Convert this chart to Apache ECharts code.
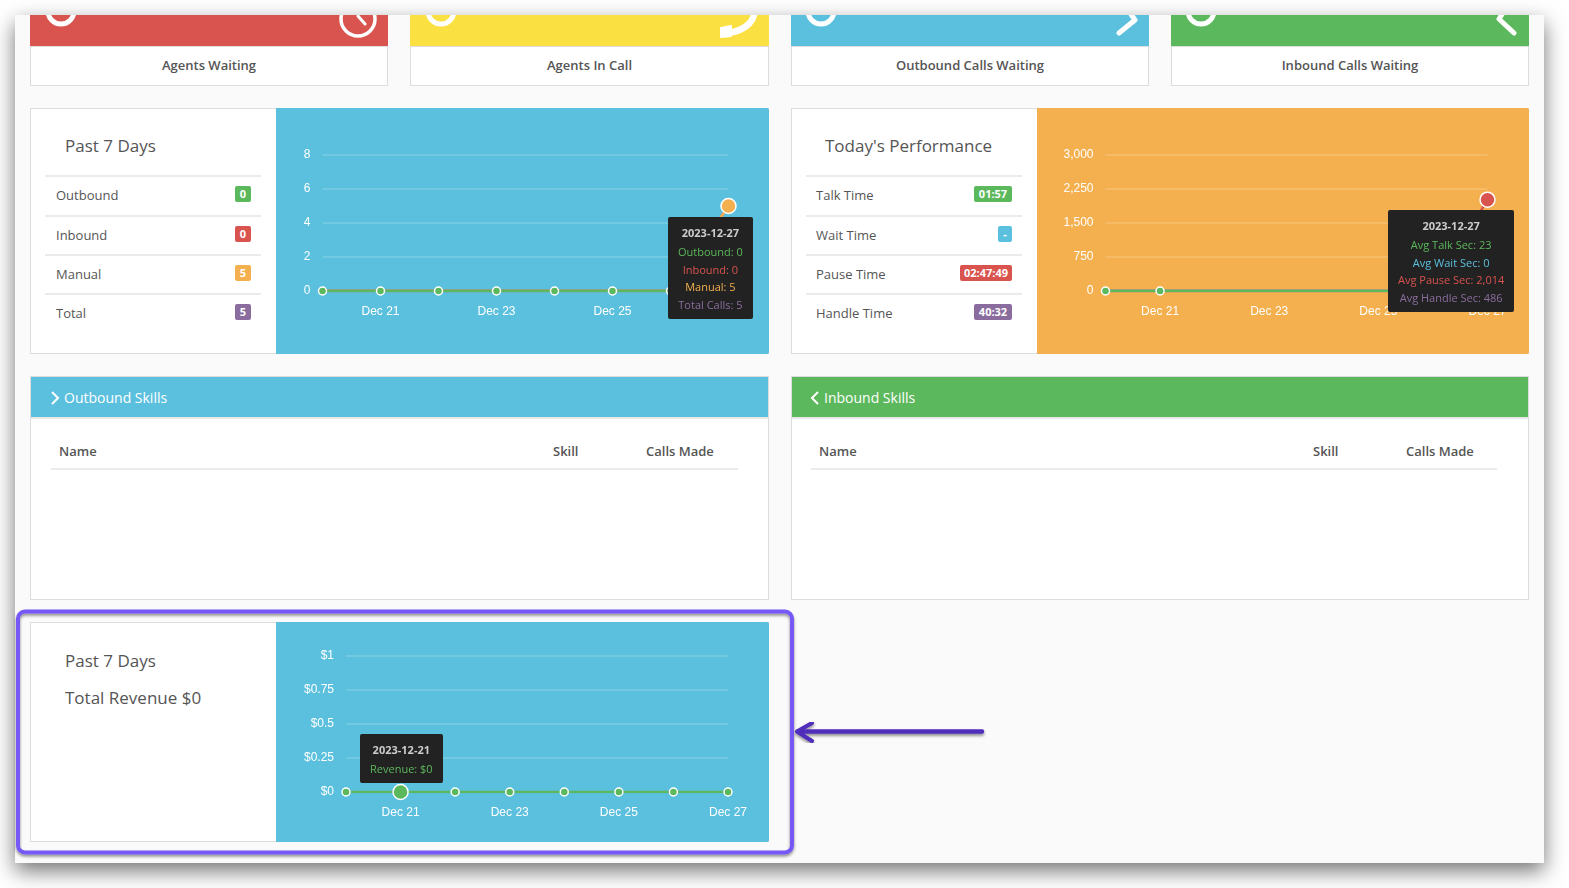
<!DOCTYPE html>
<html><head><meta charset="utf-8">
<script src="https://cdn.jsdelivr.net/npm/echarts@6/dist/echarts.min.js"></script>
<style>
html,body{margin:0;padding:0;width:1569px;height:888px;background:#fff;overflow:hidden;font-family:"Open Sans",sans-serif;color:#555}
#frame{position:absolute;left:15px;top:15px;width:1529px;height:848px;background:#fafafa;box-shadow:0 8px 20px rgba(0,0,0,.55)}
.a{position:absolute;white-space:nowrap;line-height:1}
.box{position:absolute;background:#fff;border:1px solid #ddd;box-sizing:border-box}
.fill{position:absolute}
.title{font-size:17px;color:#555}
.row{font-size:13px;color:#555}
.rule{position:absolute;height:2px;background:#ebebeb}
.badge{position:absolute;height:16px;line-height:16px;border-radius:2px;color:#fff;font-size:11px;font-weight:700;text-align:center}
.cap{font-size:13px;font-weight:600;color:#555;text-align:center}
.th{font-size:13px;font-weight:600;color:#555}
.chart{position:absolute}
svg{position:absolute;left:0;top:0;pointer-events:none}
</style></head><body>
<div id="frame"></div>

<!-- stat cards -->
<div class="fill" style="left:30px;top:15px;width:358px;height:31px;background:#d9534f"></div>
<div class="fill" style="left:410px;top:15px;width:359px;height:31px;background:#fbe041"></div>
<div class="fill" style="left:791px;top:15px;width:358px;height:31px;background:#5bc0de"></div>
<div class="fill" style="left:1171px;top:15px;width:358px;height:31px;background:#5cb85c"></div>
<div class="box" style="left:30px;top:46px;width:358px;height:40px"></div>
<div class="box" style="left:410px;top:46px;width:359px;height:40px"></div>
<div class="box" style="left:791px;top:46px;width:358px;height:40px"></div>
<div class="box" style="left:1171px;top:46px;width:358px;height:40px"></div>
<div class="a cap" style="left:30px;top:59px;width:358px">Agents Waiting</div>
<div class="a cap" style="left:410px;top:59px;width:359px">Agents In Call</div>
<div class="a cap" style="left:791px;top:59px;width:358px">Outbound Calls Waiting</div>
<div class="a cap" style="left:1171px;top:59px;width:358px">Inbound Calls Waiting</div>

<!-- past 7 days panel -->
<div class="box" style="left:30px;top:108px;width:739px;height:246px"></div>
<div class="fill" style="left:276px;top:108px;width:493px;height:246px;background:#5bc0de;border-radius:0 2px 2px 0"></div>
<div class="a title" style="left:65px;top:137px">Past 7 Days</div>
<div class="rule" style="left:45px;top:175px;width:216px"></div>
<div class="rule" style="left:45px;top:215px;width:216px"></div>
<div class="rule" style="left:45px;top:254px;width:216px"></div>
<div class="rule" style="left:45px;top:293px;width:216px"></div>
<div class="a row" style="left:56px;top:189px">Outbound</div>
<div class="a row" style="left:56px;top:229px">Inbound</div>
<div class="a row" style="left:56px;top:268px">Manual</div>
<div class="a row" style="left:56px;top:307px">Total</div>
<div class="badge" style="left:235px;top:186px;width:16px;background:#5cb85c">0</div>
<div class="badge" style="left:235px;top:226px;width:16px;background:#d9534f">0</div>
<div class="badge" style="left:235px;top:265px;width:16px;background:#f4b04f">5</div>
<div class="badge" style="left:235px;top:304px;width:16px;background:#8a6d9e">5</div>
<div class="chart" id="c1" style="left:276px;top:108px;width:493px;height:246px"></div>

<!-- today's performance panel -->
<div class="box" style="left:791px;top:108px;width:738px;height:246px"></div>
<div class="fill" style="left:1037px;top:108px;width:492px;height:246px;background:#f4b04f;border-radius:0 2px 2px 0"></div>
<div class="a title" style="left:825px;top:137px">Today's Performance</div>
<div class="rule" style="left:806px;top:175px;width:216px"></div>
<div class="rule" style="left:806px;top:215px;width:216px"></div>
<div class="rule" style="left:806px;top:254px;width:216px"></div>
<div class="rule" style="left:806px;top:293px;width:216px"></div>
<div class="a row" style="left:816px;top:189px">Talk Time</div>
<div class="a row" style="left:816px;top:229px">Wait Time</div>
<div class="a row" style="left:816px;top:268px">Pause Time</div>
<div class="a row" style="left:816px;top:307px">Handle Time</div>
<div class="badge" style="left:974px;top:186px;width:38px;background:#5cb85c">01:57</div>
<div class="badge" style="left:998px;top:226px;width:14px;background:#5bc0de">-</div>
<div class="badge" style="left:960px;top:265px;width:52px;background:#d9534f">02:47:49</div>
<div class="badge" style="left:974px;top:304px;width:38px;background:#8a6d9e">40:32</div>
<div class="chart" id="c2" style="left:1037px;top:108px;width:492px;height:246px"></div>

<!-- skills panels -->
<div class="box" style="left:30px;top:376px;width:739px;height:224px"></div>
<div class="fill" style="left:31px;top:377px;width:737px;height:40px;background:#5bc0de;border-bottom:2px solid #e8e8e8"></div>
<div class="a" style="left:64px;top:391px;font-size:14px;color:#fff">Outbound Skills</div>
<div class="a th" style="left:59px;top:445px">Name</div>
<div class="a th" style="left:553px;top:445px">Skill</div>
<div class="a th" style="left:646px;top:445px">Calls Made</div>
<div class="rule" style="left:51px;top:468px;width:687px"></div>

<div class="box" style="left:791px;top:376px;width:738px;height:224px"></div>
<div class="fill" style="left:792px;top:377px;width:736px;height:40px;background:#5cb85c;border-bottom:2px solid #e8e8e8"></div>
<div class="a" style="left:824px;top:391px;font-size:14px;color:#fff">Inbound Skills</div>
<div class="a th" style="left:819px;top:445px">Name</div>
<div class="a th" style="left:1313px;top:445px">Skill</div>
<div class="a th" style="left:1406px;top:445px">Calls Made</div>
<div class="rule" style="left:811px;top:468px;width:686px"></div>

<!-- revenue panel -->
<div class="box" style="left:30px;top:622px;width:739px;height:220px"></div>
<div class="fill" style="left:276px;top:622px;width:493px;height:220px;background:#5bc0de;border-radius:0 2px 2px 0"></div>
<div class="a title" style="left:65px;top:652px">Past 7 Days</div>
<div class="a title" style="left:65px;top:689px">Total Revenue $0</div>
<div class="chart" id="c3" style="left:276px;top:622px;width:493px;height:220px"></div>

<svg width="1569" height="888" viewBox="0 0 1569 888" fill="none">
  <defs>
    <clipPath id="top"><rect x="15" y="15" width="1529" height="848"/></clipPath>
    <filter id="ds" x="-5%" y="-5%" width="110%" height="115%"><feDropShadow dx="0" dy="2" stdDeviation="1.5" flood-color="#000" flood-opacity=".45"/></filter>
  </defs>
  <g clip-path="url(#top)" stroke="#fff" stroke-linecap="round" stroke-linejoin="round">
    <circle cx="61" cy="11" r="13" stroke-width="5"/>
    <circle cx="441" cy="11" r="13" stroke-width="5"/>
    <circle cx="821" cy="11" r="13" stroke-width="5"/>
    <circle cx="1201" cy="11" r="13" stroke-width="5"/>
    <circle cx="358" cy="19" r="17" stroke-width="3.5"/>
    <path d="M358 16 L365 24" stroke-width="3"/>
    <path d="M754 15 Q750 29 729 33" stroke-width="6.5"/>
    <path d="M721 28 L731 26 L731 36 L721 37Z" fill="#fff" stroke-width="2"/>
    <path d="M1128 10 L1135 20 L1119 33" stroke-width="5"/>
    <path d="M1506 8 L1499 19 L1514 33" stroke-width="5"/>
  </g>
  <path d="M52 392 L58 398 L52 404" stroke="#fff" stroke-width="2"/>
  <path d="M818 392 L812 398 L818 404" stroke="#fff" stroke-width="2"/>
  <rect x="18" y="611.5" width="774" height="241" rx="7" stroke="#7558f6" stroke-width="4" filter="url(#ds)"/>
  <g filter="url(#ds)" stroke="#4f2dbb" stroke-linecap="round" stroke-linejoin="round">
    <path d="M982 731.5 L798 731.5" stroke-width="4.5"/>
    <path d="M812 723 L797 731.5 L812 741" stroke-width="4"/>
  </g>
</svg>

<script>
// Shared category axis
const days = ['Dec 20','Dec 21','Dec 22','Dec 23','Dec 24','Dec 25','Dec 26','Dec 27'];
const fullDates = ['2023-12-20','2023-12-21','2023-12-22','2023-12-23','2023-12-24','2023-12-25','2023-12-26','2023-12-27'];

// Past 7 Days: calls
const outbound = [0,0,0,0,0,0,0,0];
const inbound  = [0,0,0,0,0,0,0,0];
const manual   = [0,0,0,0,0,0,0,5];
const totalCalls = [0,0,0,0,0,0,0,5];

// Today's Performance: average seconds
const avgTalk   = [0,0,0,0,0,0,0,23];
const avgWait   = [0,0,0,0,0,0,0,0];
const avgPause  = [0,0,0,0,0,0,0,2014];
const avgHandle = [0,0,0,0,0,0,0,486];

// Past 7 Days: revenue
const revenue = [0,0,0,0,0,0,0,0];

const GREEN='#5cb85c', RED='#d9534f', ORANGE='#f4b04f', PURPLE='#8a6d9e', BLUE='#5bc0de';
const LAST = days.length-1;

function sizeAt(normal, bigIndex, big){
  return (v,p)=> p.dataIndex===bigIndex ? big : normal;
}
function line(name,data,color,size,z){
  return {name,type:'line',data,z,
    symbol:'circle',symbolSize:size,showSymbol:true,
    lineStyle:{color,width:2.5},
    itemStyle:{color,borderColor:'#fff',borderWidth:1.5},
    emphasis:{disabled:true},silent:false,animation:false};
}
function axes(gridColor,yOpts,fmt){
  return {
    xAxis:{type:'category',data:days,boundaryGap:false,
      axisLine:{show:false},axisTick:{show:false},splitLine:{show:false},
      axisLabel:{color:'#fff',fontFamily:'"Liberation Sans",Arial,sans-serif',fontSize:12,margin:15,
        interval:(i)=>i%2===1,hideOverlap:false,showMaxLabel:true}},
    yAxis:Object.assign({type:'value',
      axisLine:{show:false},axisTick:{show:false},
      splitLine:{lineStyle:{color:gridColor,width:2}},
      axisLabel:{color:'#fff',fontFamily:'"Liberation Sans",Arial,sans-serif',fontSize:12,margin:12,padding:[3,0,0,0],formatter:fmt}},yOpts)
  };
}
function tipBase(fmt,x,y){
  return {trigger:'item',show:true,alwaysShowContent:true,showContent:true,
    transitionDuration:0,backgroundColor:'#222',borderWidth:0,borderRadius:2,
    padding:[7,10,5,10],extraCssText:'box-shadow:none;text-align:center;line-height:17.75px;',
    textStyle:{fontFamily:'"Open Sans",sans-serif',fontSize:11,color:'#ccc'},
    formatter:fmt,position:()=>[x,y]};
}
const row=(c,t)=>`<div style="color:${c}">${t}</div>`;
const head=i=>`<div style="color:#ccc;font-weight:700;margin-bottom:1px">${fullDates[i]}</div>`;
const num=n=>n.toLocaleString('en-US');

const c1=echarts.init(document.getElementById('c1'),null,{renderer:'canvas'});
c1.setOption(Object.assign({
  animation:false,
  grid:{left:46.5,right:40.5,top:47,bottom:63,containLabel:false,outerBoundsMode:'none'},
  tooltip:tipBase(()=>{const i=LAST;return head(i)+row(GREEN,'Outbound: '+outbound[i])+row(RED,'Inbound: '+inbound[i])+row(ORANGE,'Manual: '+manual[i])+row(PURPLE,'Total Calls: '+totalCalls[i]);},392,109),
  series:[
    line('Total Calls',totalCalls,PURPLE,0,1),
    line('Inbound',inbound,RED,0,2),
    line('Manual',manual,ORANGE,sizeAt(0,LAST,15),3),
    line('Outbound',outbound,GREEN,8,4)
  ]},axes('rgba(255,255,255,.14)',{min:0,max:8,interval:2})));
c1.dispatchAction({type:'showTip',seriesIndex:2,dataIndex:LAST});

const c2=echarts.init(document.getElementById('c2'),null,{renderer:'canvas'});
c2.setOption(Object.assign({
  animation:false,
  grid:{left:68.5,right:41.5,top:47,bottom:63,containLabel:false,outerBoundsMode:'none'},
  tooltip:tipBase(()=>{const i=LAST;return head(i)+row(GREEN,'Avg Talk Sec: '+num(avgTalk[i]))+row(BLUE,'Avg Wait Sec: '+num(avgWait[i]))+row(RED,'Avg Pause Sec: '+num(avgPause[i]))+row(PURPLE,'Avg Handle Sec: '+num(avgHandle[i]));},350.5,102),
  series:[
    line('Avg Handle Sec',avgHandle,PURPLE,0,1),
    line('Avg Pause Sec',avgPause,RED,sizeAt(0,LAST,15),2),
    line('Avg Wait Sec',avgWait,BLUE,0,3),
    line('Avg Talk Sec',avgTalk,GREEN,(v,p)=>p.dataIndex<2?8:0,4)
  ]},axes('rgba(255,255,255,.14)',{min:0,max:3000,interval:750},v=>num(v))));
c2.dispatchAction({type:'showTip',seriesIndex:1,dataIndex:LAST});

const c3=echarts.init(document.getElementById('c3'),null,{renderer:'canvas'});
c3.setOption(Object.assign({
  animation:false,
  grid:{left:70,right:41,top:33.5,bottom:50,containLabel:false,outerBoundsMode:'none'},
  tooltip:tipBase(()=>head(1)+row(GREEN,'Revenue: $'+revenue[1]),84,112),
  series:[ line('Revenue',revenue,GREEN,sizeAt(8,1,15),1) ]
  },axes('rgba(255,255,255,.14)',{min:0,max:1,interval:0.25},v=>'$'+v)));
c3.dispatchAction({type:'showTip',seriesIndex:0,dataIndex:1});
</script>
</body></html>
